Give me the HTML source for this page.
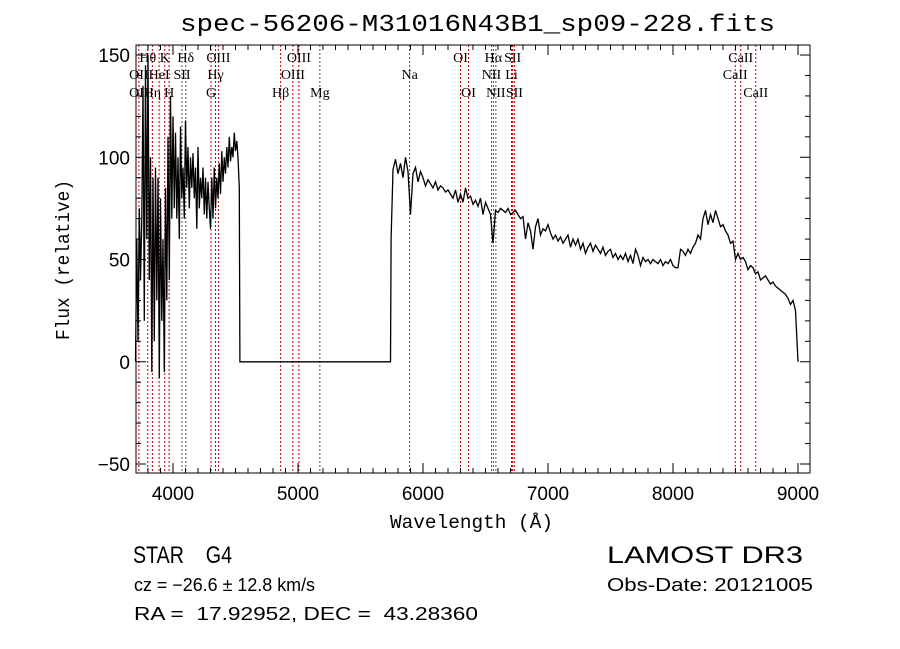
<!DOCTYPE html>
<html><head><meta charset="utf-8"><style>
body{margin:0;background:#fff;}
svg{display:block;font-family:"Liberation Sans",sans-serif;}
text{white-space:pre;}
</style></head><body>
<svg id="chart" width="900" height="649" viewBox="0 0 900 649" xmlns="http://www.w3.org/2000/svg" xml:space="preserve">
<rect width="900" height="649" fill="#fff"/>
<text x="180" y="31" font-size="24" textLength="595" lengthAdjust="spacingAndGlyphs" font-family="Liberation Mono, monospace">spec-56206-M31016N43B1_sp09-228.fits</text>
<g id="lines"></g>
<g id="labels"></g>
<path id="spec" fill="none" stroke="#000" stroke-width="1.3"/>
<rect x="136" y="45" width="674" height="428" fill="none" stroke="#000" stroke-width="1"/>
<g id="ticks" stroke="#000" stroke-width="1"></g>
<g id="ticklabels" font-size="19"></g>
<text x="390" y="528" font-size="19" textLength="163" lengthAdjust="spacingAndGlyphs" font-family="Liberation Mono, monospace">Wavelength (Å)</text>
<text transform="translate(69,340) rotate(-90)" font-size="19" textLength="160" lengthAdjust="spacingAndGlyphs" font-family="Liberation Mono, monospace">Flux (relative)</text>
<text x="133" y="563" font-size="24" textLength="99" lengthAdjust="spacingAndGlyphs" font-family="Liberation Sans, sans-serif">STAR    G4</text>
<text x="607" y="563" font-size="24" textLength="196" lengthAdjust="spacingAndGlyphs" font-family="Liberation Sans, sans-serif">LAMOST DR3</text>
<text x="134" y="591" font-size="18" textLength="181" lengthAdjust="spacingAndGlyphs">cz = −26.6 ± 12.8 km/s</text>
<text x="607" y="591" font-size="18" textLength="206" lengthAdjust="spacingAndGlyphs">Obs-Date: 20121005</text>
<text x="134" y="620" font-size="18" textLength="344" lengthAdjust="spacingAndGlyphs">RA =  17.92952, DEC =  43.28360</text>
</svg>
<script>
const blueWaves=[3700,3710,3720,3730,3740,3750,3760,3770,3780,3790,3800,3810,3820,3830,3840,3850,3860,3870,3880,3890,3900,3910,3920,3930,3940,3950,3960,3970,3980,3990,4000,4010,4020,4030,4040,4050,4060,4070,4080,4090,4100,4110,4120,4130,4140,4150,4160,4170,4180,4190,4200,4210,4220,4230,4240,4250,4260,4270,4280,4290,4300,4310,4320,4330,4340,4350,4360,4370,4380,4390,4400,4410,4420,4430,4440,4450,4460,4470,4480,4490,4500,4510,4520,4530,4535,5740,5745];
const blueFlux=[0,60,10,75,40,70,135,20,145,60,150,40,100,-5,90,10,95,30,90,-8,80,20,60,-5,85,30,110,40,130,70,120,75,112,70,100,60,115,80,95,70,118,85,105,75,100,85,102,80,95,65,105,75,90,80,95,72,90,70,88,75,65,90,70,95,75,90,80,97,82,103,88,100,92,105,95,110,98,105,100,112,103,108,100,85,0,0,60];
const redStart=5760, redStep=20;
const redFlux=[
94,99,92,97,90,100,93,72,92,95,
88,93,90,86,89,87,85,88,84,86,
85,83,84,82,80,84,78,82,78,85,
80,81,77,79,76,80,72,78,75,72,
58,74,73,75,74,73,75,72,73,74,
72,70,71,60,68,64,55,66,70,62,
65,64,67,63,60,62,59,61,58,60,
62,56,60,57,60,55,58,53,56,58,
54,57,55,53,56,52,54,55,51,53,
50,52,50,53,49,52,48,55,52,47,
51,49,50,48,50,49,48,50,47,49,
48,50,47,46,46,55,54,52,55,53,
56,58,62,60,70,74,67,72,68,74,
70,66,67,64,62,58,59,50,53,50,
51,49,45,47,46,43,44,40,41,42,
40,38,39,37,36,35,34,33,31,28,
30,25,0];
const lineWaves=[3727,3798,3835,3889,3934,3969,4072,4102,4304,4340,4363,4861,4959,5007,5175,5893,6300,6364,6548,6563,6583,6708,6717,6731,8498,8542,8662];
const lineDark=[0,0,0,0,0,0,1,1,0,0,0,0,0,0,1,1,0,0,1,1,1,0,0,0,0,0,0];
const labelNames=["Hθ","K","Hδ","OIII","OIII","OI","Hα","SII","CaII","OII","HeI","SII","Hγ","OIII","Na","NII","Li","CaII","OII","Hη","H","G","Hβ","Mg","OI","NII","SII","CaII"];
const labelWaves=[3798,3934,4102,4363,5007,6300,6563,6717,8542,3727,3889,4072,4340,4959,5893,6548,6708,8498,3727,3835,3969,4304,4861,5175,6364,6583,6731,8662];
const labelRows=[0,0,0,0,0,0,0,0,0,1,1,1,1,1,1,1,1,1,2,2,2,2,2,2,2,2,2,2];
const xTicks=[4000,5000,6000,7000,8000,9000];
const yTicks=[-50,0,50,100,150];
const X0=136,X1=810,Y0=473,Y1=45,WMIN=3704,WMAX=9096,FMIN=-54.4,FMAX=154.9;
function sx(w){return X0+(w-WMIN)/(WMAX-WMIN)*(X1-X0);}
function sy(f){return Y0-(f-FMIN)/(FMAX-FMIN)*(Y0-Y1);}
const NS="http://www.w3.org/2000/svg";
let d="";
for(let i=0;i<blueWaves.length;i++){d+=(i?"L":"M")+sx(blueWaves[i]).toFixed(1)+" "+sy(blueFlux[i]).toFixed(1);}
for(let i=0;i<redFlux.length;i++){d+="L"+sx(redStart+i*redStep).toFixed(1)+" "+sy(redFlux[i]).toFixed(1);}
document.getElementById('spec').setAttribute('d',d);
const lg=document.getElementById('lines');
for(let i=0;i<lineWaves.length;i++){
const l=document.createElementNS(NS,'line');


const x=sx(lineWaves[i]);
l.setAttribute('x1',x);l.setAttribute('x2',x);l.setAttribute('y1',Y1);l.setAttribute('y2',Y0);
l.setAttribute('stroke',lineDark[i]?'#555':'#c00000');l.setAttribute('stroke-dasharray','2,2');l.setAttribute('stroke-width','1');
lg.appendChild(l);}
const lb=document.getElementById('labels');
const rowY=[62,79,97];
for(let i=0;i<labelNames.length;i++){
const t=document.createElementNS(NS,'text');


t.setAttribute('x',sx(labelWaves[i]));t.setAttribute('y',rowY[labelRows[i]]);
t.setAttribute('text-anchor','middle');
t.setAttribute('font-size','14');t.setAttribute('font-family','Liberation Serif, serif');
t.textContent=labelNames[i];lb.appendChild(t);}
const tg=document.getElementById('ticks'),tl=document.getElementById('ticklabels');
function tick(x1,y1,x2,y2){const l=document.createElementNS(NS,'line');


l.setAttribute('x1',x1);l.setAttribute('y1',y1);l.setAttribute('x2',x2);l.setAttribute('y2',y2);tg.appendChild(l);}
for(let w=3800;w<=9000;w+=100){const x=sx(w);const len=(w%1000===0)?10:5;tick(x,Y0,x,Y0-len);tick(x,Y1,x,Y1+len);}
for(let f=-50;f<=150;f+=10){const y=sy(f);const len=(f%50===0)?10:5;tick(X0,y,X0+len,y);tick(X1,y,X1-len,y);}
xTicks.forEach(w=>{const t=document.createElementNS(NS,'text');


t.setAttribute('x',sx(w));t.setAttribute('y',Y0+27);t.setAttribute('text-anchor','middle');t.textContent=w;tl.appendChild(t);});
yTicks.forEach(f=>{const t=document.createElementNS(NS,'text');


t.setAttribute('x',X0-6);t.setAttribute('y',sy(f)+7);t.setAttribute('text-anchor','end');t.textContent=(f<0?'−':'')+Math.abs(f);tl.appendChild(t);});
</script>
</body></html>
